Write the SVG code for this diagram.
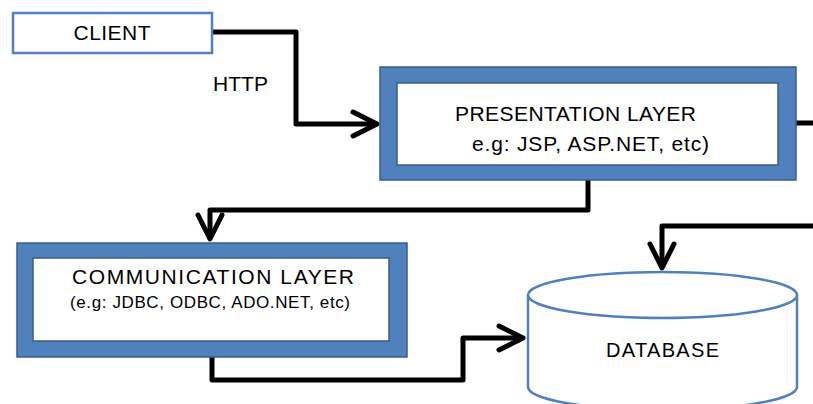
<svg xmlns="http://www.w3.org/2000/svg" width="813" height="404" viewBox="0 0 813 404">
<style>
.outer{fill:#4F81BD;stroke:#385D8A;stroke-width:1.5}
.inner{fill:#fff;stroke:#385D8A;stroke-width:1.5}
.thin{fill:#fff;stroke:#4F81BD;stroke-width:2.5}
.conn{fill:none;stroke:#000;stroke-width:5;stroke-linejoin:round}
text{font-family:"Liberation Sans",Arial,sans-serif;fill:#000}
</style>
<defs>
<marker id="arr" markerUnits="userSpaceOnUse" markerWidth="32" markerHeight="32" viewBox="-30 -16 32 32" refX="0" refY="0" orient="auto" overflow="visible">
<path d="M-24,-12 L0,0 L-24,12" fill="none" stroke="#000" stroke-width="5" stroke-linecap="round" stroke-linejoin="round"/>
</marker>
</defs>
<g id="connectors">
<path class="conn" d="M212,32 H296 V124 H377" marker-end="url(#arr)"/>
<path class="conn" d="M588,180 V210 H210 V239" marker-end="url(#arr)"/>
<path class="conn" d="M212,357 V380 H463 V338 H523" marker-end="url(#arr)"/>
<path class="conn" d="M796,123 H815"/>
<path class="conn" d="M815,226 H662 V268" marker-end="url(#arr)"/>
</g>
<g id="client">
<rect class="thin" x="13" y="13" width="199" height="40"/>
<text x="112" y="40" font-size="21" text-anchor="middle" textLength="77">CLIENT</text>
</g>
<g id="http-label">
<text x="213" y="91" font-size="21" textLength="55">HTTP</text>
</g>
<g id="presentation">
<rect class="outer" x="380" y="67" width="416" height="113"/>
<rect class="inner" x="397" y="83" width="381" height="82"/>
<text x="455" y="121" font-size="21" textLength="241">PRESENTATION LAYER</text>
<text x="472" y="151" font-size="21" textLength="237">e.g: JSP, ASP.NET, etc)</text>
</g>
<g id="communication">
<rect class="outer" x="17" y="243" width="390" height="114"/>
<rect class="inner" x="33" y="258" width="356" height="83"/>
<text x="72" y="284" font-size="21" textLength="282">COMMUNICATION LAYER</text>
<text x="70" y="308" font-size="17" textLength="280">(e.g: JDBC, ODBC, ADO.NET, etc)</text>
</g>
<g id="database">
<path class="thin" d="M528,295 V387 A134.5,23 0 0 0 797,387 V295"/>
<ellipse class="thin" cx="662.5" cy="295" rx="134.5" ry="23"/>
<text x="606" y="357" font-size="20" textLength="113">DATABASE</text>
</g>
</svg>
